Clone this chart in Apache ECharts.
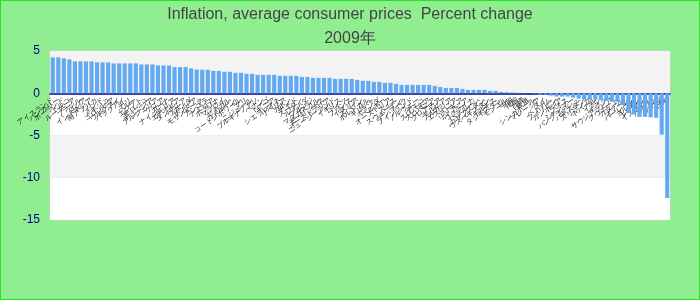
<!DOCTYPE html>
<html>
<head>
<meta charset="utf-8">
<script src="https://cdn.jsdelivr.net/npm/echarts@6/dist/echarts.min.js"></script>
<style>
html,body{margin:0;padding:0;background:#90ee90;}
#wrap{width:700px;height:300px;box-sizing:border-box;border:1px solid #22e622;}
#chart{width:698px;height:298px;}
</style>
</head>
<body>
<div id="wrap"><div id="chart"></div></div>
<script>
const titleText = 'Inflation, average consumer prices  Percent change';
const subTitleText = '2009年';
const categories = [
'アイスランド','ハンガリー','ポーランド','トルコ','ルーマニア','ブラジル','ロシア','インドネシア','南アフリカ','インド',
'メキシコ','コロンビア','ウルグアイ','パラグアイ','チリ','ペルー','エジプト','モロッコ','チュニジア','アルジェリア',
'ケニア','ガーナ','ナイジェリア','エチオピア','タンザニア','ウガンダ','ザンビア','モザンビーク','アンゴラ','ナミビア',
'ボツワナ','マラウイ','セネガル','カメルーン','コートジボワール','マリ','ニジェール','ブルキナファソ','ベナン','トーゴ',
'ギニア','シエラレオネ','リベリア','ガボン','チャド','スーダン','ルワンダ','ブルンジ','マダガスカル','モーリシャス',
'オーストラリア','ニュージーランド','イギリス','ドイツ','フランス','イタリア','スペイン','ポルトガル','ギリシャ','オランダ',
'ベルギー','オーストリア','スイス','スウェーデン','デンマーク','フィンランド','ノルウェー','チェコ','スロバキア','スロベニア',
'クロアチア','セルビア','ブルガリア','エストニア','ラトビア','リトアニア','ウクライナ','ベラルーシ','カザフスタン','ウズベキスタン',
'キルギス','タジキスタン','モンゴル','中国','韓国','台湾','香港','シンガポール','マレーシア','タイ',
'ベトナム','フィリピン','カンボジア','ラオス','ミャンマー','バングラデシュ','パキスタン','スリランカ','ネパール','イラン',
'イラク','サウジアラビア','クウェート','カタール','オマーン','バーレーン','ヨルダン','レバノン','イスラエル','アメリカ',
'カナダ','日本'
];
const values = [
4.25,4.25,4.13,4.0,3.77,3.77,3.77,3.77,3.65,3.65,
3.65,3.53,3.53,3.53,3.53,3.53,3.41,3.41,3.41,3.29,
3.29,3.29,3.1,3.1,3.1,2.94,2.8,2.8,2.78,2.65,
2.65,2.54,2.54,2.42,2.42,2.3,2.3,2.18,2.18,2.18,
2.18,2.06,2.06,2.06,2.06,1.94,1.94,1.82,1.82,1.82,
1.82,1.7,1.7,1.7,1.7,1.58,1.47,1.47,1.35,1.35,
1.23,1.23,1.11,0.99,0.99,0.99,0.99,0.99,0.99,0.87,
0.75,0.63,0.63,0.63,0.52,0.4,0.4,0.4,0.4,0.28,
0.28,0.16,0.12,0.08,0.05,0.03,0.01,-0.05,-0.16,-0.16,
-0.28,-0.4,-0.4,-0.4,-0.52,-0.64,-0.76,-0.76,-0.76,-0.82,
-0.88,-1.0,-1.0,-1.4,-2.3,-2.5,-2.8,-2.8,-2.85,-2.9,
-4.9,-12.4
];
const yMin = -15, yMax = 5, yStep = 5;

const chartH = 298, gridTop = 50, gridBottom = 79;
const plotH = chartH - gridTop - gridBottom;
const zeroOffset = plotH * (0 - yMin) / (yMax - yMin);

const chart = echarts.init(document.getElementById('chart'), null, {renderer:'canvas'});
chart.setOption({
  backgroundColor: '#90ee90',
  animation: false,
  title: {
    text: titleText + '\n' + subTitleText,
    left: 'center',
    top: -3,
    textStyle: {fontFamily: 'Liberation Sans, Arial, sans-serif', fontSize: 16, fontWeight: 'normal', color: '#444', lineHeight: 24}
  },
  grid: {left: 49, right: 29, top: gridTop, bottom: gridBottom, show: true, backgroundColor: 'transparent', borderColor: '#d0d0d0', borderWidth: 1},
  xAxis: {
    type: 'category',
    data: categories,
    offset: -zeroOffset,
    axisLine: {onZero: false, lineStyle: {color: '#000080', width: 1.5}},
    axisTick: {show: false},
    axisLabel: {interval: 0, rotate: 35, fontSize: 7, color: '#222', margin: 6}
  },
  yAxis: {
    type: 'value',
    min: yMin, max: yMax, interval: yStep,
    axisLine: {show: false},
    axisTick: {show: false},
    splitLine: {show: false},
    splitArea: {show: true, areaStyle: {color: ['#ffffff', '#f3f3f3']}},
    axisLabel: {color: '#000080', fontSize: 12, margin: 10}
  },
  series: [{
    type: 'bar',
    data: values,
    barCategoryGap: '25%',
    itemStyle: {color: '#63a9f1'}
  }]
});
</script>
</body>
</html>
